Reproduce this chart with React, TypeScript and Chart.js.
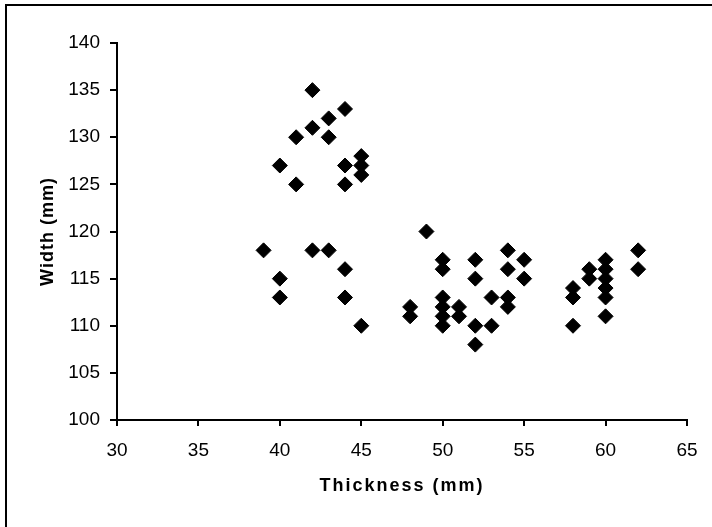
import React, { useEffect, useRef } from "react";
import { Chart, registerables } from "chart.js";

Chart.register(...registerables);

const thickness = [39, 40, 40, 40, 41, 41, 42, 42, 42, 43, 43, 43, 44, 44, 44, 44, 44, 45, 45, 45, 45, 48, 48, 49, 50, 50, 50, 50, 50, 50, 51, 51, 52, 52, 52, 52, 53, 53, 54, 54, 54, 54, 55, 55, 58, 58, 58, 59, 59, 60, 60, 60, 60, 60, 60, 62, 62];
const widthMm = [118, 127, 115, 113, 130, 125, 135, 131, 118, 132, 130, 118, 133, 127, 125, 116, 113, 128, 127, 126, 110, 112, 111, 120, 117, 116, 113, 112, 111, 110, 112, 111, 117, 115, 110, 108, 113, 110, 118, 116, 113, 112, 117, 115, 114, 113, 110, 116, 115, 117, 116, 115, 114, 113, 111, 118, 116];

const xTitle = "Thickness (mm)";
const yTitle = "Width (mm)";

const FONT = "'Liberation Sans', Arial, sans-serif";

const titleSpacingPlugin = {
  id: "titleSpacing",
  beforeDraw(chart: any) {
    Object.values(chart.scales).forEach((s: any) => {
      if (s.__wrapped) return;
      s.__wrapped = true;
      const orig = s.drawTitle.bind(s);
      s.drawTitle = (...args: any[]) => {
        const ctx = s.ctx;
        ctx.save();
        ctx.letterSpacing = s.axis === "x" ? "2px" : "1px";
        orig(...args);
        ctx.restore();
      };
    });
  },
};

export default function App() {
  const ref = useRef<HTMLCanvasElement | null>(null);
  useEffect(() => {
    if (!ref.current) return;
    const data = thickness.map((x, i) => ({ x, y: widthMm[i] }));
    const chart = new Chart(ref.current, {
      type: "scatter",
      data: {
        datasets: [
          {
            data,
            pointStyle: "rectRot",
            pointRadius: 7.5,
            pointHoverRadius: 7.5,
            backgroundColor: "#000",
            borderColor: "#000",
            borderWidth: 1,
          },
        ],
      },
      plugins: [titleSpacingPlugin],
      options: {
        animation: false,
        responsive: false,
        maintainAspectRatio: false,
        events: [],
        layout: { padding: { left: 0, top: 43, right: 25, bottom: 0 } },
        plugins: { legend: { display: false }, tooltip: { enabled: false } },
        scales: {
          x: {
            type: "linear",
            min: 30,
            max: 65,
            afterFit: (s: any) => {
              s.height = 107;
            },
            ticks: { stepSize: 5, color: "#000", font: { family: FONT, size: 19 }, padding: 13, maxRotation: 0 },
            grid: { display: true, drawOnChartArea: false, drawTicks: true, tickLength: 6, color: "#000", lineWidth: 2 },
            border: { display: true, color: "#000", width: 2 },
            title: {
              display: true,
              text: xTitle,
              color: "#000",
              font: { family: FONT, size: 18, weight: "bold" },
              padding: { top: 0, bottom: 30 },
            },
          },
          y: {
            type: "linear",
            min: 100,
            max: 140,
            afterFit: (s: any) => {
              s.width = 117;
            },
            ticks: { stepSize: 5, color: "#000", font: { family: FONT, size: 19 }, padding: 10 },
            grid: { display: true, drawOnChartArea: false, drawTicks: true, tickLength: 7, color: "#000", lineWidth: 2 },
            border: { display: true, color: "#000", width: 2 },
            title: {
              display: true,
              text: yTitle,
              color: "#000",
              font: { family: FONT, size: 18, weight: "bold" },
              padding: { top: 37, bottom: 0 },
            },
          },
        },
      },
    });
    return () => chart.destroy();
  }, []);
  return (
    <div style={{ position: "fixed", left: 0, top: 0, width: 712, height: 527, overflow: "hidden", background: "#fff" }}>
      <canvas ref={ref} width={712} height={527} style={{ position: "absolute", left: 0, top: 0, width: 712, height: 527 }} />
      <div
        style={{
          position: "absolute",
          left: 5,
          top: 4,
          width: 730,
          height: 550,
          border: "2px solid #000",
          boxSizing: "border-box",
          pointerEvents: "none",
        }}
      />
    </div>
  );
}
